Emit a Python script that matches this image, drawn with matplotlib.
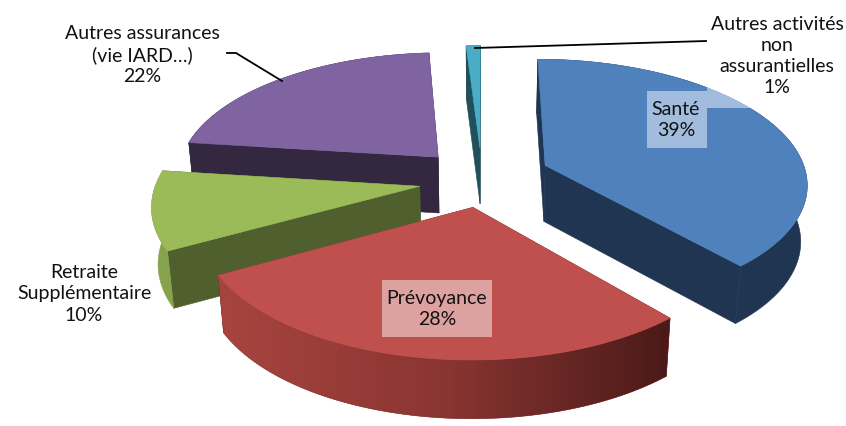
import numpy as np
import matplotlib
matplotlib.use('Agg')
import matplotlib.pyplot as plt
from matplotlib.colors import LinearSegmentedColormap
from matplotlib.patches import Polygon, Rectangle

plt.rcParams['font.family'] = ['Lato', 'DejaVu Sans']

# donnees
categories = ['Santé', 'Prévoyance', 'Retraite\nSupplémentaire',
              'Autres assurances\n(vie IARD…)', 'Autres activités\nnon\nassurantielles']
values = [38.6, 28.4, 10, 22, 1]
top_colors = ['#4F81BD', '#C0504D', '#9BBB59', '#8064A2', '#4BACC6']
cut_colors = ['#1F3552', '#5A2220', '#4F5F2D', '#33283F', '#20505C']
wall_colors = ['#1F3552', '#8A3532', '#86A24C', '#33283F', '#20505C']
draw_order = [4, 3, 0, 2, 1]

# perspective du camembert (pixels)
xc, y_vanish = 482, -745
u0, k_u, c_x = 1.0835e-3, 1.45e-4, 0.284
explode = 0.25
nudge_x = [0.01, 0.01, 0.01, 0, 0]
nudge_y = [0.015, 0.015, -0.02, -0.01, 0]
depth0 = 56


def project(x, y_back):
    h = 1 / (u0 + k_u * y_back)
    return xc + c_x * x * h, y_vanish + h


def lower(px, py):
    h = py - y_vanish
    return xc + (px - xc) * 0.98, py + depth0 * (h / 912) ** 0.25


fig = plt.figure(figsize=(8.46, 4.26), dpi=100)
ax = fig.add_axes([0, 0, 1, 1])

edges = np.cumsum([0] + values) / sum(values) * 2 * np.pi

for rank, i in enumerate(draw_order):
    a0, a1 = edges[i], edges[i + 1]
    mid = (a0 + a1) / 2
    ox = explode * np.sin(mid) + nudge_x[i]
    oy = explode * np.cos(mid) + nudge_y[i]
    t = np.linspace(a0, a1, 120)
    rim_x, rim_y = project(ox + np.sin(t), oy + np.cos(t))
    low_x, low_y = lower(rim_x, rim_y)
    ax_, ay_ = project(ox, oy)
    bx_, by_ = lower(ax_, ay_)

    # faces coupees
    for j in (0, -1):
        ax.add_patch(Polygon([(ax_, ay_), (rim_x[j], rim_y[j]), (low_x[j], low_y[j]), (bx_, by_)],
                             fc=cut_colors[i], ec=cut_colors[i], lw=0.4, zorder=rank * 3 + 1))

    # paroi exterieure
    wall = np.vstack([np.column_stack([rim_x, rim_y]), np.column_stack([low_x, low_y])[::-1]])
    patch = Polygon(wall, fc=wall_colors[i], ec=wall_colors[i], lw=0.4, zorder=rank * 3 + 2)
    ax.add_patch(patch)
    if categories[i] == 'Prévoyance':
        # degrade horizontal sur la paroi rouge
        cmap = LinearSegmentedColormap.from_list('rouge', ['#A8443F', '#8A3532', '#4A1A18'])
        grad = np.linspace(0, 1, 256).reshape(1, -1)
        im = ax.imshow(grad, cmap=cmap, aspect='auto', zorder=rank * 3 + 2,
                       extent=(rim_x.min(), rim_x.max(), low_y.max(), rim_y.min()))
        im.set_clip_path(patch)

    # dessus
    top = np.vstack([[ax_, ay_], np.column_stack([rim_x, rim_y])])
    ax.add_patch(Polygon(top, fc=top_colors[i], ec=top_colors[i], lw=0.4, zorder=rank * 3 + 3))

# fonds des etiquettes
for x0, x1, y0, y1 in [(647, 707, 91, 148), (382, 492, 280, 337), (707, 846, 0, 108)]:
    ax.add_patch(Rectangle((x0, y0), x1 - x0, y1 - y0, fc='white', ec='none', alpha=0.47, zorder=30))

# traits de rappel
ax.plot([475, 706], [48, 41], color='black', lw=1.3, zorder=31)
ax.plot([227, 236, 282], [53, 53, 81], color='black', lw=1.3, zorder=31)

# etiquettes
label_x = [676, 437, 84, 142, 777]
label_y = [120, 309, 294, 55, 56]
for i in range(len(values)):
    ax.text(label_x[i], label_y[i], '%s\n%d%%' % (categories[i], round(values[i])), ha='center', va='center',
            fontsize=14, color='#111111', linespacing=1.3, zorder=32)

ax.set_xlim(0, 846)
ax.set_ylim(426, 0)
ax.axis('off')
fig.savefig('out.png', dpi=100)
